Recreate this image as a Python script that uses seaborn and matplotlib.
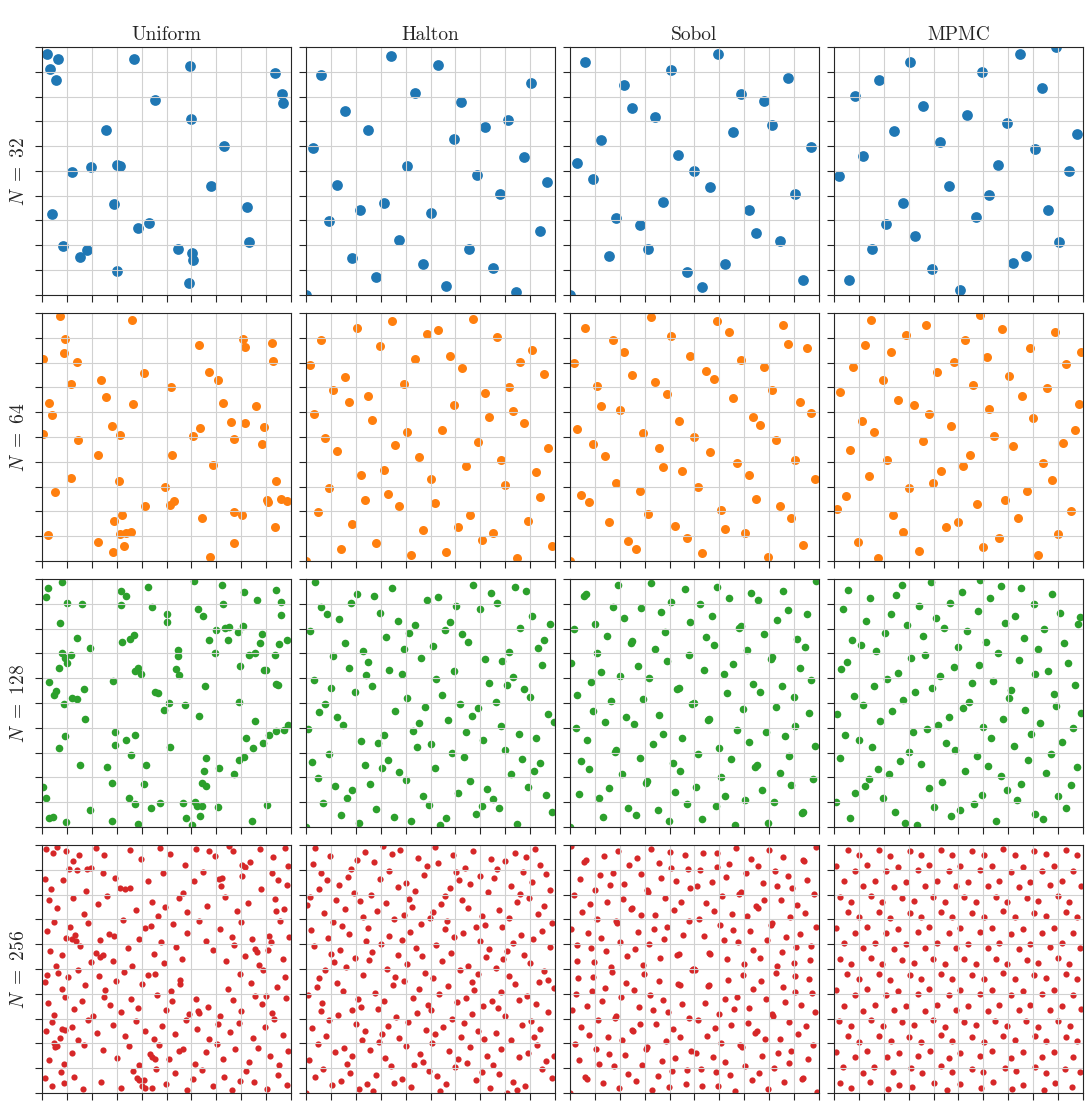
import numpy as np
import pandas as pd
import matplotlib
matplotlib.use("Agg")
import matplotlib.pyplot as plt
import seaborn as sns

methods = ["Uniform", "Halton", "Sobol", "MPMC"]
sizes = [32, 64, 128, 256]
colors = ["#1f77b4", "#ff7f0e", "#2ca02c", "#d62728"]
marker_area = [60, 42, 30, 20]

# point coordinates (percent of the unit square)
uniform_32 = [(1.9,97.2),(6.3,95.0),(3.2,91.0),(5.7,86.6),(37.1,95.1),(59.5,92.3),(93.7,89.6),(96.4,81.0),(96.8,77.5),(45.4,78.5),(59.9,70.9),(25.7,66.3),(72.9,59.9),(12.0,49.5),(19.8,51.6),(30.1,52.5),(31.2,52.0),(68.0,44.0),(28.9,36.7),(82.5,35.6),(4.2,32.5),(42.9,29.1),(38.5,27.1),(8.6,19.6),(18.0,18.2),(15.2,15.4),(54.5,18.4),(60.4,17.0),(60.8,13.9),(83.0,21.3),(30.1,9.7),(59.1,4.6)]
halton_32 = [(34.3,96.4),(53.1,92.6),(6.1,88.8),(90.5,85.3),(43.6,81.6),(62.4,77.9),(15.5,74.1),(81.2,70.4),(71.8,67.9),(24.9,66.7),(59.3,63.0),(3.0,59.2),(87.6,55.6),(40.5,52.0),(68.8,48.2),(96.9,45.6),(12.4,44.4),(78.1,40.8),(31.2,37.0),(21.8,34.4),(50.0,33.2),(9.2,29.6),(93.8,25.8),(37.3,22.1),(65.5,18.4),(18.4,14.7),(46.8,12.3),(75.0,10.9),(28.0,7.3),(56.1,3.5),(84.5,1.2),(0.0,0.0)]
sobol_32 = [(59.3,97.0),(6.1,93.8),(40.4,90.7),(87.5,87.6),(21.7,84.5),(68.6,81.2),(78.0,78.3),(24.9,75.2),(34.2,71.8),(81.3,68.7),(65.6,65.6),(12.5,62.5),(96.8,59.5),(43.5,56.3),(3.0,53.0),(50.0,50.1),(9.3,46.8),(56.1,43.7),(90.4,40.6),(37.3,37.4),(71.7,34.3),(18.5,31.2),(28.0,28.1),(74.9,25.0),(84.4,21.9),(31.3,18.6),(15.5,15.5),(62.4,12.4),(46.8,9.4),(93.5,6.2),(53.0,3.0),(0.0,0.0)]
mpmc_32 = [(89.1,99.9),(74.6,97.0),(30.7,94.1),(59.5,90.0),(18.2,86.6),(83.4,83.3),(8.5,80.3),(35.9,76.1),(53.6,72.7),(69.3,69.5),(24.3,66.1),(97.7,64.8),(42.7,61.7),(80.8,58.8),(11.8,56.0),(65.8,52.2),(94.2,49.8),(1.9,47.9),(46.2,44.1),(62.2,40.4),(85.8,34.1),(27.8,37.1),(57.2,31.6),(20.8,28.5),(32.7,23.6),(90.4,21.3),(15.3,18.4),(77.3,15.8),(71.8,12.7),(39.2,10.3),(6.1,5.9),(50.8,2.0)]

uniform_64 = [(7.3,98.7),(36.2,97.2),(9.3,89.7),(63.1,87.2),(80.6,89.6),(81.6,86.1),(92.3,87.7),(92.7,80.8),(0.3,81.6),(8.9,83.7),(14.0,80.2),(40.9,75.6),(67.0,76.2),(70.5,72.9),(23.6,72.9),(11.7,71.3),(51.7,70.3),(25.6,66.1),(3.0,63.6),(36.6,63.2),(72.8,63.7),(86.1,62.3),(3.9,59.0),(75.8,56.0),(81.6,55.5),(28.0,54.3),(63.3,53.6),(89.1,54.0),(0.5,51.1),(31.4,50.9),(60.8,50.3),(77.0,49.3),(14.4,48.7),(88.4,47.2),(22.6,42.6),(52.1,42.6),(68.8,38.6),(11.8,33.6),(31.1,32.4),(94.1,32.3),(49.5,30.0),(5.1,27.8),(52.8,24.0),(51.3,22.5),(90.4,24.7),(90.7,23.8),(96.1,25.0),(98.4,24.0),(41.5,22.0),(77.1,19.7),(80.4,18.4),(32.0,18.4),(28.8,16.1),(64.2,17.3),(93.5,13.6),(2.4,10.5),(31.5,10.8),(33.8,11.2),(35.8,11.5),(22.6,7.6),(77.1,7.2),(28.5,3.5),(33.0,6.2),(67.6,1.5)]
halton_64 = [(67.2,97.7),(34.5,96.6),(20.4,94.1),(53.2,93.0),(48.5,91.6),(76.9,90.4),(6.2,89.2),(29.7,86.6),(90.7,85.2),(43.8,81.5),(58.0,82.7),(1.5,79.0),(86.1,80.2),(62.7,77.7),(95.5,75.3),(15.7,74.1),(39.2,71.5),(81.5,70.3),(10.8,69.1),(72.0,67.9),(25.0,66.7),(17.2,64.1),(59.5,62.9),(83.0,60.5),(3.1,59.1),(73.6,57.9),(26.6,56.8),(87.7,55.5),(54.7,53.0),(40.7,51.8),(7.7,49.4),(68.9,48.0),(35.9,46.8),(97.0,45.6),(12.6,44.4),(45.4,42.0),(78.2,40.6),(64.1,38.2),(31.4,36.8),(92.4,35.8),(21.9,34.5),(50.1,33.2),(79.9,30.8),(9.3,29.6),(32.8,27.0),(94.1,25.8),(23.5,24.7),(51.8,23.5),(37.4,22.1),(4.7,19.7),(65.8,18.4),(89.2,15.9),(18.5,14.7),(61.1,13.5),(46.9,12.3),(75.1,11.1),(70.5,8.5),(28.1,7.3),(98.6,6.1),(14.1,4.9),(56.2,3.5),(42.3,2.4),(84.6,1.2),(0.0,0.0)]
sobol_64 = [(32.7,98.5),(59.2,96.9),(85.7,95.3),(6.1,93.8),(63.9,92.2),(40.6,90.6),(17.1,89.1),(87.5,87.4),(95.3,86.0),(21.8,84.3),(48.2,82.7),(68.6,81.2),(1.5,79.8),(78.0,78.2),(54.6,76.7),(24.9,75.0),(57.7,73.4),(34.2,72.0),(10.8,70.4),(81.3,68.8),(39.1,67.3),(65.6,65.7),(92.2,64.2),(12.5,62.6),(20.2,61.0),(96.8,59.5),(73.3,57.9),(43.7,56.3),(76.5,54.8),(3.0,53.2),(29.5,51.6),(50.0,50.1),(82.7,48.6),(9.3,47.1),(35.8,45.5),(56.1,44.0),(14.0,42.4),(90.4,40.8),(67.1,39.3),(37.3,37.7),(45.1,36.2),(71.7,34.5),(98.4,32.9),(18.6,31.4),(51.5,29.8),(28.0,28.3),(4.6,26.7),(74.9,25.1),(7.7,23.6),(84.2,22.0),(60.8,20.5),(31.3,18.9),(15.5,15.8),(88.9,17.4),(42.2,14.2),(62.4,12.7),(70.2,11.1),(46.8,9.4),(23.5,7.9),(93.5,6.5),(26.4,4.9),(53.0,3.2),(79.6,1.7),(0.0,0.0)]
mpmc_64 = [(58.8,99.1),(14.9,97.0),(36.8,95.0),(67.3,93.5),(88.6,92.4),(28.8,91.2),(52.7,89.2),(12.4,87.2),(78.6,85.8),(22.8,84.1),(99.2,84.1),(61.4,82.2),(48.1,80.4),(93.2,79.4),(7.7,78.3),(41.4,76.0),(70.3,74.5),(19.6,72.9),(55.9,70.9),(85.7,69.9),(2.6,68.3),(75.5,66.5),(25.8,65.0),(98.4,63.4),(32.0,62.8),(62.4,61.1),(38.0,59.2),(80.1,57.6),(11.4,56.3),(47.0,54.3),(16.1,51.8),(96.8,53.0),(64.3,50.3),(35.7,48.3),(91.9,47.5),(71.9,46.3),(6.5,44.8),(54.6,42.8),(21.2,40.6),(84.1,39.4),(51.9,38.1),(42.8,36.3),(13.9,34.3),(87.4,32.8),(39.7,31.4),(30.3,29.3),(77.6,28.1),(4.7,26.3),(68.8,24.7),(57.6,23.1),(1.2,21.1),(95.0,20.0),(23.9,18.4),(74.1,17.3),(49.9,15.7),(44.9,13.6),(27.7,11.6),(90.1,10.7),(66.2,9.4),(9.5,7.8),(60.0,5.7),(34.1,3.9),(81.9,2.4),(17.8,1.1)]

uniform_128 = [(8.2,98.7),(61.2,99.1),(2.4,96.4),(1.5,92.9),(31.9,95.0),(33.9,93.0),(42.7,96.6),(72.3,97.6),(81.0,94.7),(93.8,95.4),(86.4,91.4),(96.0,90.6),(10.1,90.2),(16.0,89.9),(31.8,89.5),(44.0,88.8),(62.6,87.9),(72.5,89.8),(64.7,84.9),(96.1,85.3),(50.2,85.7),(50.2,82.5),(7.1,82.2),(14.1,76.1),(19.2,72.2),(32.3,74.5),(35.4,75.7),(37.1,77.6),(70.0,79.5),(73.4,80.3),(75.0,80.5),(80.8,81.0),(78.7,78.8),(74.8,75.3),(67.0,75.2),(88.4,77.9),(87.5,74.1),(95.2,73.7),(98.4,75.3),(8.2,70.2),(11.7,69.5),(10.1,66.3),(9.4,68.0),(7.0,64.3),(54.6,71.4),(54.6,69.1),(69.6,70.2),(83.3,69.5),(85.5,70.2),(93.4,69.5),(79.5,65.0),(38.5,64.3),(37.3,62.7),(39.6,61.6),(53.8,63.6),(55.2,61.3),(89.2,63.1),(90.0,63.1),(2.6,58.5),(28.4,59.0),(65.5,56.7),(93.8,57.5),(94.8,57.3),(5.5,54.9),(5.0,53.2),(16.7,55.5),(12.2,52.2),(13.9,51.8),(9.0,49.5),(45.5,54.4),(46.4,54.2),(50.9,50.1),(48.9,47.3),(57.5,49.2),(79.0,50.3),(17.1,43.4),(63.0,44.7),(85.7,42.9),(29.2,38.4),(37.3,37.1),(9.2,36.7),(33.6,34.9),(29.2,32.9),(7.0,31.8),(51.4,32.3),(35.8,29.2),(98.8,41.2),(97.0,39.2),(94.0,38.5),(91.3,36.9),(88.7,33.7),(82.1,36.0),(84.8,31.7),(81.2,28.2),(79.1,27.1),(65.8,27.9),(64.9,22.4),(71.1,23.7),(76.9,21.4),(15.3,24.9),(26.2,24.3),(41.6,24.8),(0.5,16.2),(28.0,17.7),(40.8,17.4),(64.3,17.7),(65.8,16.4),(1.5,11.6),(35.0,11.7),(37.3,9.3),(47.2,9.7),(43.6,7.8),(56.7,9.7),(61.6,10.0),(62.2,8.5),(64.1,8.5),(70.5,8.1),(90.2,9.0),(19.4,6.9),(3.0,3.6),(4.3,4.0),(57.7,3.5),(63.4,4.6),(9.8,1.8),(28.0,2.3),(38.6,1.1),(60.3,0.9),(84.3,2.3)]
halton_128 = [(3.8,98.8),(67.2,97.6),(83.9,96.8),(34.5,96.4),(88.5,95.1),(74.3,94.2),(20.4,93.8),(27.4,93.0),(53.2,92.6),(48.5,91.4),(18.0,90.4),(76.9,90.2),(6.2,88.9),(60.1,89.2),(69.7,87.7),(29.7,86.4),(8.6,85.7),(13.2,84.0),(90.7,85.2),(36.9,83.0),(58.0,82.6),(43.9,81.5),(1.5,79.0),(86.1,80.3),(97.8,81.8),(41.5,78.2),(55.7,79.4),(62.7,77.8),(32.0,76.5),(64.9,74.5),(95.5,75.3),(15.7,74.1),(50.8,72.9),(93.2,72.0),(22.7,70.8),(39.2,71.6),(81.5,70.4),(10.8,69.1),(46.2,68.2),(72.0,67.9),(78.9,67.1),(25.0,66.7),(94.7,65.5),(17.2,64.2),(33.5,63.3),(38.4,61.7),(59.5,62.9),(24.2,61.1),(83.0,60.5),(3.1,59.2),(52.4,59.6),(73.6,57.9),(80.7,57.1),(26.6,56.9),(10.1,55.9),(87.7,55.5),(19.6,54.3),(54.7,53.1),(90.1,52.3),(40.7,51.9),(76.1,50.5),(61.9,49.7),(7.7,49.5),(47.8,48.5),(68.9,48.1),(5.4,46.2),(35.9,46.9),(97.0,45.7),(12.6,44.5),(66.5,44.7),(57.2,43.1),(14.9,41.2),(45.4,42.0),(99.5,42.5),(78.2,40.7),(0.8,39.4),(43.1,38.5),(64.1,38.3),(31.4,36.9),(85.4,37.3),(71.2,35.0),(21.9,34.6),(92.4,35.8),(28.9,33.7),(50.1,33.3),(44.6,32.1),(79.9,30.9),(58.8,29.9),(9.3,29.6),(63.4,28.3),(86.9,27.5),(2.3,26.3),(32.8,27.1),(94.1,25.9),(23.5,24.8),(30.7,23.9),(51.8,23.6),(91.5,22.5),(37.4,22.2),(82.2,21.2),(4.7,19.8),(40.0,18.9),(65.8,18.5),(89.2,16.0),(25.7,17.3),(11.8,16.4),(18.5,14.8),(72.8,15.1),(61.1,13.6),(46.9,12.4),(96.4,12.7),(16.4,11.5),(75.1,11.1),(7.0,9.8),(49.2,9.0),(70.5,8.6),(77.6,7.8),(28.1,7.3),(98.6,6.2),(68.1,5.4),(14.1,5.0),(35.3,4.0),(56.2,3.6),(42.3,2.4),(21.2,1.6),(53.8,0.7),(84.6,1.2),(0.0,0.0)]
sobol_128 = [(5.5,93.0),(6.5,93.8),(19.4,97.6),(32.7,98.5),(46.0,96.1),(59.2,96.9),(72.5,94.5),(85.7,95.3),(98.8,99.3),(63.9,92.2),(75.6,91.4),(17.1,88.9),(28.7,88.3),(40.6,90.6),(52.2,89.9),(87.5,87.5),(95.3,86.0),(10.1,81.9),(21.8,84.4),(36.7,86.7),(56.9,85.2),(48.2,82.7),(83.3,83.6),(67.8,80.4),(68.8,81.0),(1.5,79.8),(14.7,77.2),(38.1,78.7),(54.6,76.5),(78.0,78.0),(91.2,75.7),(94.5,72.6),(24.4,74.2),(25.0,74.8),(34.2,71.8),(57.7,73.4),(10.9,70.2),(47.6,69.4),(71.0,71.2),(80.6,67.8),(81.2,68.4),(0.4,66.3),(38.8,67.1),(27.4,64.8),(65.6,65.6),(92.2,64.0),(12.4,62.5),(53.8,63.2),(20.2,60.9),(61.7,61.7),(31.9,60.1),(96.8,59.3),(8.5,58.5),(73.3,57.8),(85.0,57.0),(43.1,55.5),(43.7,56.1),(3.0,53.1),(16.3,50.7),(29.5,51.5),(76.5,54.6),(63.2,53.9),(89.8,52.3),(49.2,49.4),(49.8,50.0),(82.7,48.4),(69.4,47.6),(9.3,46.9),(22.5,44.5),(35.8,45.3),(55.4,43.0),(56.0,43.6),(96.0,46.1),(14.0,42.2),(25.6,41.4),(90.4,40.6),(2.3,39.8),(67.1,38.9),(78.7,38.1),(37.3,37.3),(86.5,36.7),(45.1,35.8),(6.9,35.0),(71.7,34.2),(33.3,33.6),(98.2,32.7),(17.9,30.3),(18.5,30.9),(60.0,31.9),(88.1,28.7),(28.0,28.0),(51.5,29.5),(4.6,26.5),(64.7,27.4),(41.2,25.7),(74.4,24.2),(75.0,24.8),(7.7,23.3),(44.3,22.5),(84.2,21.8),(21.0,21.2),(60.8,20.2),(97.4,19.5),(30.4,17.9),(31.0,18.5),(50.7,16.3),(15.5,15.6),(77.2,14.8),(88.9,17.1),(3.8,13.2),(42.2,14.0),(11.6,11.7),(62.4,12.5),(70.2,10.9),(81.9,10.0),(46.8,9.3),(58.5,8.5),(23.5,7.8),(35.2,6.9),(93.0,5.6),(93.6,6.2),(13.1,3.9),(26.4,4.7),(39.8,2.3),(53.0,3.0),(66.3,0.7),(79.6,1.5),(0.0,0.0)]
mpmc_128 = [(5.8,95.7),(27.2,97.7),(38.8,98.9),(58.8,99.5),(67.2,97.2),(75.0,96.4),(87.7,93.9),(51.4,94.6),(25.1,93.5),(14.6,92.2),(62.7,92.3),(46.6,90.4),(80.4,89.8),(3.5,88.0),(34.2,89.1),(22.8,85.8),(57.7,87.1),(90.8,86.4),(98.9,84.8),(13.0,83.0),(40.9,84.2),(72.7,85.0),(29.2,81.4),(68.5,82.2),(98.2,81.8),(44.3,80.3),(84.5,79.8),(53.6,79.0),(20.5,78.2),(35.7,77.0),(7.2,75.5),(76.4,76.4),(61.2,74.5),(10.8,73.4),(92.3,74.1),(17.0,71.0),(49.9,72.5),(81.9,71.7),(65.9,70.1),(36.6,69.3),(31.1,68.1),(5.4,66.6),(93.9,66.0),(74.5,67.4),(58.4,65.5),(48.2,64.7),(3.0,63.5),(25.7,62.1),(80.8,61.5),(86.1,62.9),(42.7,60.8),(21.2,59.6),(63.9,58.8),(55.3,57.9),(96.9,57.4),(16.1,57.0),(39.3,55.9),(71.2,55.3),(32.7,54.3),(8.0,53.0),(88.2,53.6),(70.3,52.0),(27.6,51.2),(54.3,50.3),(89.1,48.7),(11.5,49.2),(51.8,48.0),(76.9,47.2),(23.5,46.6),(1.4,45.4),(99.3,45.8),(46.1,44.5),(67.8,43.5),(18.6,42.7),(82.6,42.0),(60.0,40.3),(37.2,39.4),(95.9,39.9),(4.6,36.9),(31.6,38.4),(79.3,37.5),(41.8,41.2),(63.1,35.8),(10.0,35.0),(91.5,34.4),(44.9,33.7),(15.1,32.2),(72.3,32.7),(48.8,31.1),(30.1,30.2),(57.3,28.8),(87.2,29.5),(2.6,27.9),(78.0,27.1),(26.6,26.4),(35.1,25.2),(97.7,24.0),(17.7,23.5),(61.9,24.4),(52.8,22.4),(85.3,21.8),(22.2,21.2),(14.1,19.4),(66.9,20.4),(43.5,18.2),(95.0,17.1),(75.3,17.5),(12.4,16.6),(38.2,15.6),(69.5,14.7),(8.6,13.7),(59.3,12.9),(90.1,12.4),(19.9,11.7),(0.8,10.0),(73.5,10.8),(56.1,9.2),(40.3,8.2),(93.1,7.5),(50.7,7.0),(24.5,6.2),(80.9,5.4),(47.2,4.6),(6.4,3.5),(83.8,3.0),(28.5,1.6),(65.1,2.3),(33.5,0.7)]

uniform_256 = [(1.5,98.5),(4.5,96.8),(6.0,99.2),(9.8,97.5),(12.5,93.6),(14.8,95.8),(19.5,90.8),(21.6,98.9),(24.8,96.1),(35.2,97.9),(39.6,94.3),(47.2,99.0),(51.3,96.4),(57.4,92.1),(61.8,98.3),(69.4,95.7),(75.2,99.5),(76.8,97.6),(83.5,93.2),(87.6,98.6),(92.8,95.1),(97.4,99.0),(98.9,91.5),
    (1.2,86.4),(3.6,82.1),(10.8,90.3),(14.2,90.0),(18.1,90.2),(8.4,85.8),(24.5,88.7),(31.5,82.5),(33.2,82.3),(35.4,82.7),(29.4,86.9),(42.7,85.5),(48.6,88.9),(56.8,80.6),(61.2,85.4),(64.5,89.2),(71.8,83.3),(80.2,87.4),(88.1,82.4),(92.5,88.6),(94.8,86.0),(98.5,83.8),
    (2.7,77.9),(6.1,74.5),(12.4,78.8),(16.8,72.3),(22.5,76.4),(26.1,79.6),(37.7,73.8),(44.2,77.1),(46.5,71.2),(54.9,78.5),(58.3,72.9),(66.2,75.6),(73.5,79.1),(78.3,73.4),(82.9,76.8),(93.6,78.2),(97.1,74.4),
    (1.8,65.2),(4.9,69.1),(9.6,62.4),(11.2,66.9),(13.1,63.8),(18.6,68.5),(23.2,61.6),(26.9,64.3),(32.4,69.8),(38.8,62.1),(41.5,66.7),(43.9,67.3),(47.8,60.8),(52.6,68.2),(58.1,64.5),(62.9,69.4),(65.7,61.3),(71.4,66.2),(76.2,63.1),(79.8,68.8),(84.4,61.9),(91.3,63.4),(95.6,69.5),(99.2,62.8),
    (3.1,57.2),(5.8,51.4),(8.2,55.6),(15.4,59.1),(19.7,52.8),(21.8,56.3),(28.5,53.2),(34.6,58.4),(36.2,51.1),(44.8,55.9),(49.1,52.4),(53.7,58.7),(56.4,54.1),(68.5,57.8),(73.9,53.3),(77.1,59.6),(81.6,55.2),(87.3,51.8),(90.6,57.5),(96.8,53.9),
    (1.1,44.6),(6.4,48.2),(7.9,42.1),(10.5,46.7),(14.3,49.6),(17.2,43.5),(22.9,47.1),(25.4,41.4),(29.8,45.3),(33.1,48.8),(40.2,43.9),(42.6,47.6),(45.3,47.9),(51.8,41.2),(55.6,45.5),(74.6,41.9),(79.3,48.1),(83.8,44.2),(88.9,49.5),(94.2,42.6),(97.5,46.8),
    (2.4,36.1),(4.7,31.5),(9.1,38.6),(12.8,33.9),(16.1,37.2),(20.5,31.2),(24.7,38.9),(27.3,35.4),(31.8,32.6),(35.9,37.8),(38.4,34.1),(46.2,39.4),(49.7,33.5),(52.3,36.9),(58.9,31.8),(61.7,38.1),(66.8,34.7),(71.3,30.9),(76.5,37.5),(80.1,33.2),(85.7,39.1),(88.2,35.8),(92.4,32.1),(98.1,38.3),
    (1.6,24.9),(3.9,28.6),(7.3,22.1),(11.9,26.8),(14.6,21.4),(18.3,29.3),(22.1,24.2),(28.7,27.5),(33.4,22.8),(37.6,28.9),(41.2,25.1),(44.9,21.6),(48.3,27.2),(53.5,23.7),(57.8,29.6),(62.4,25.9),(67.1,21.8),(70.6,27.7),(75.3,24.4),(78.9,28.1),(84.6,22.3),(89.4,26.5),(93.1,29.8),(96.7,23.5),
    (2.9,13.2),(5.4,18.7),(8.8,11.6),(12.2,16.3),(16.9,19.2),(24.3,17.5),(30.1,14.1),(34.8,18.9),(38.9,11.3),(43.5,15.7),(47.1,19.5),(50.9,13.6),(55.2,17.1),(56.8,17.6),(61.4,11.8),(65.9,16.4),(70.2,19.8),(72.8,13.9),(77.6,17.8),(83.1,12.4),(86.8,18.2),(91.7,14.8),(95.3,11.1),(98.8,16.9),
    (1.3,6.1),(4.2,2.8),(7.6,8.4),(8.9,3.9),(12.7,6.6),(16.4,1.5),(23.8,4.3),(31.9,2.2),(36.4,8.7),(40.8,5.4),(45.6,9.6),(44.1,1.9),(49.9,3.6),(53.4,7.9),(58.2,1.2),(60.7,5.8),(64.3,9.4),(68.8,2.7),(73.1,6.3),(76.4,1.1),(81.9,8.8),(85.2,4.6),(90.3,1.7),(94.6,7.4),(98.2,3.1),
    (44.0,14.5),(45.2,13.9),(62.5,33.0),(63.1,32.2),(23.4,55.0),(24.6,55.8),(71.0,86.2),(72.3,86.9),(8.0,26.0),(9.1,25.3),(85.5,58.0),(86.2,56.9),(38.0,6.0),(39.1,5.2),(17.5,81.5),(49.5,75.0),(90.0,39.0),(55.5,44.0),(29.0,63.5),(67.0,97.5),(93.8,73.2),(2.0,47.5),(79.5,5.0),
    (12.0,62.0),(13.5,61.2),(80.5,92.0),(81.7,91.2),(5.0,20.0),(6.2,19.1),(92.0,61.0),(40.0,3.0),(41.2,2.1)]
halton_256 = halton_128 + [(0.4,75.7),(50.4,20.2),(25.4,53.5),(75.4,86.8),(12.9,31.3),(62.9,64.6),(37.9,97.9),(87.9,2.9),(6.6,36.2),(56.6,69.5),(31.6,14.0),(81.6,47.3),(19.1,80.7),(69.1,25.1),(44.1,58.4),(94.1,91.8),(3.5,6.6),(53.5,39.9),(28.5,73.3),(78.5,17.7),(16.0,51.0),(66.0,84.4),(41.0,28.8),(91.0,62.1),(9.8,95.5),(59.8,10.3),(34.8,43.6),(84.8,77.0),(22.3,21.4),(72.3,54.7),(47.3,88.1),(97.3,32.5),(2.0,65.8),(52.0,99.2),(27.0,0.8),(77.0,34.2),(14.5,67.5),(64.5,11.9),(39.5,45.3),(89.5,78.6),(8.2,23.0),(58.2,56.4),(33.2,89.7),(83.2,4.5),(20.7,37.9),(70.7,71.2),(45.7,15.6),(95.7,49.0),(5.1,82.3),(55.1,26.7),(30.1,60.1),(80.1,93.4),(17.6,8.2),(67.6,41.6),(42.6,74.9),(92.6,19.3),(11.3,52.7),(61.3,86.0),(36.3,30.5),(86.3,63.8),(23.8,97.1),(73.8,2.1),(48.8,35.4),(98.8,68.7),(1.2,13.2),(51.2,46.5),(26.2,79.8),(76.2,24.3),(13.7,57.6),(63.7,90.9),(38.7,5.8),(88.7,39.1),(7.4,72.4),(57.4,16.9),(32.4,50.2),(82.4,83.5),(19.9,28.0),(69.9,61.3),(44.9,94.7),(94.9,9.5),(4.3,42.8),(54.3,76.1),(29.3,20.6),(79.3,53.9),(16.8,87.2),(66.8,31.7),(41.8,65.0),(91.8,98.4),(10.5,3.3),(60.5,36.6),(35.5,70.0),(85.5,14.4),(23.0,47.7),(73.0,81.1),(48.0,25.5),(98.0,58.8),(2.7,92.2),(52.7,7.0),(27.7,40.3),(77.7,73.7),(15.2,18.1),(65.2,51.4),(40.2,84.8),(90.2,29.2),(9.0,62.6),(59.0,95.9),(34.0,10.7),(84.0,44.0),(21.5,77.4),(71.5,21.8),(46.5,55.1),(96.5,88.5),(5.9,32.9),(55.9,66.3),(30.9,99.6),(80.9,0.1),(18.4,33.5),(68.4,66.8),(43.4,11.2),(93.4,44.6),(12.1,77.9),(62.1,22.4),(37.1,55.7),(87.1,89.0),(24.6,3.8),(74.6,37.2),(49.6,70.5),(99.6,15.0)]
sobol_256 = sobol_128 + [(5.9,6.6),(6.9,5.8),(19.8,2.0),(33.1,1.1),(46.4,3.5),(59.6,2.7),(72.9,5.1),(86.1,4.3),(99.2,0.3),(64.3,7.4),(76.0,8.2),(17.5,10.7),(29.1,11.3),(41.0,9.0),(52.6,9.7),(87.9,12.1),(95.7,13.6),(10.5,17.7),(22.2,15.2),(37.1,12.9),(57.3,14.4),(48.6,16.9),(83.7,16.0),(68.2,19.2),(69.2,18.6),(1.9,19.8),(15.1,22.4),(38.5,20.9),(55.0,23.1),(78.4,21.6),(91.6,23.9),(94.9,27.0),(24.8,25.4),(25.4,24.8),(34.6,27.8),(58.1,26.2),(11.3,29.4),(48.0,30.2),(71.4,28.4),(81.0,31.8),(81.6,31.2),(0.8,33.3),(39.2,32.5),(27.8,34.8),(66.0,34.0),(92.6,35.6),(12.8,37.1),(54.2,36.4),(20.6,38.7),(62.1,37.9),(32.3,39.5),(97.2,40.3),(8.9,41.1),(73.7,41.8),(85.4,42.6),(43.5,44.1),(44.1,43.5),(3.4,46.5),(16.7,48.9),(29.9,48.1),(76.9,45.0),(63.6,45.7),(90.2,47.3),(49.6,50.2),(50.2,49.6),(83.1,51.2),(69.8,52.0),(9.7,52.7),(22.9,55.1),(36.2,54.3),(55.8,56.6),(56.4,56.0),(96.4,53.5),(14.4,57.4),(26.0,58.2),(90.8,59.0),(2.7,59.8),(67.5,60.7),(79.1,61.5),(37.7,62.3),(86.9,62.9),(45.5,63.8),(7.3,64.6),(72.1,65.4),(33.7,66.0),(98.6,66.9),(18.3,69.3),(18.9,68.7),(60.4,67.7),(88.5,70.9),(28.4,71.6),(51.9,70.1),(5.0,73.1),(65.1,72.2),(41.6,73.9),(74.8,75.4),(75.4,74.8),(8.1,76.3),(44.7,77.1),(84.6,77.8),(21.4,78.4),(61.2,79.4),(97.8,80.1),(30.8,81.7),(31.4,81.1),(51.1,83.3),(15.9,84.0),(77.6,84.8),(89.3,82.5),(4.2,86.4),(42.6,85.6),(12.0,87.9),(62.8,87.1),(70.6,88.7),(82.3,89.6),(47.2,90.3),(58.9,91.1),(23.9,91.8),(35.6,92.7),(93.4,94.0),(94.0,93.4),(13.5,95.7),(26.8,94.9),(40.2,97.3),(53.4,96.6),(66.7,98.9),(80.0,98.1),(0.4,99.6)]
mpmc_256 = [(2.4,4.0),(6.7,2.2),(14.5,4.3),(21.6,1.8),(26.0,3.4),(31.4,2.3),(40.0,4.1),(45.5,1.3),(50.7,3.7),(58.9,2.0),(63.8,4.4),(71.7,1.6),(76.0,3.3),(84.2,1.0),(88.6,3.9),(95.4,2.5),
    (3.8,10.3),(11.5,8.2),(16.0,10.6),(23.9,8.5),(30.8,9.9),(35.2,8.0),(43.1,10.8),(47.5,8.6),(55.3,9.7),(60.0,8.3),(68.6,10.2),(73.0,8.7),(80.8,10.5),(85.1,8.1),(92.9,9.6),(98.9,8.4),
    (0.8,16.5),(8.6,14.6),(13.2,16.9),(21.4,14.4),(26.0,16.2),(33.7,14.9),(38.4,16.8),(46.2,14.2),(50.8,16.0),(58.6,15.0),(63.5,17.0),(71.2,14.3),(75.8,16.4),(83.6,14.7),(88.3,16.6),(96.1,14.5),
    (5.5,22.8),(10.0,20.7),(18.1,23.0),(22.8,20.9),(30.3,22.4),(35.1,20.5),(43.0,23.2),(47.6,21.0),(55.6,22.6),(60.2,20.6),(68.0,23.1),(72.7,21.2),(80.6,22.9),(85.0,20.8),(93.0,22.5),(97.6,21.1),
    (2.2,29.0),(7.0,27.0),(14.9,29.3),(19.6,26.9),(27.4,28.8),(32.0,27.3),(39.8,29.4),(44.6,26.8),(52.4,28.5),(57.1,27.4),(64.8,29.2),(69.6,27.1),(77.3,28.9),(82.1,26.7),(89.9,29.1),(94.7,27.2),
    (4.0,35.2),(11.7,33.2),(16.4,35.5),(24.2,33.4),(28.9,35.0),(36.7,33.0),(41.4,35.6),(49.2,33.5),(53.9,35.1),(61.7,33.1),(66.4,35.4),(74.2,33.3),(78.9,35.3),(86.7,33.6),(91.4,35.0),(99.2,33.8),
    (0.9,41.5),(8.5,39.7),(13.3,41.8),(21.1,39.5),(25.8,41.3),(33.6,39.9),(38.3,41.9),(46.1,39.6),(50.8,41.4),(58.6,39.8),(63.3,41.7),(71.1,39.4),(75.8,41.2),(83.6,40.0),(88.3,41.6),(96.1,39.6),
    (5.4,47.8),(10.1,45.9),(18.0,48.0),(22.6,45.7),(30.5,47.6),(35.1,46.1),(43.0,48.1),(47.6,45.8),(55.5,47.5),(60.1,46.0),(68.0,48.2),(72.6,45.9),(80.5,47.7),(85.1,46.2),(93.0,47.9),(97.6,45.8),
    (2.4,54.0),(7.0,52.1),(14.9,54.3),(19.5,52.0),(27.4,53.8),(32.0,52.3),(39.9,54.2),(44.5,51.9),(52.4,53.9),(57.0,52.2),(64.9,54.1),(69.5,52.0),(77.4,53.7),(82.0,52.4),(89.9,54.4),(94.5,52.1),
    (3.9,60.3),(11.7,58.4),(16.4,60.5),(24.2,58.2),(28.9,60.1),(36.7,58.6),(41.4,60.6),(49.2,58.3),(53.9,60.2),(61.7,58.5),(66.4,60.4),(74.2,58.1),(78.9,60.0),(86.7,58.7),(91.4,60.6),(99.0,58.4),
    (0.8,66.5),(8.6,64.6),(13.3,66.8),(21.1,64.4),(25.8,66.3),(33.6,64.9),(38.3,66.9),(46.1,64.5),(50.8,66.4),(58.6,64.8),(63.3,66.7),(71.1,64.3),(75.8,66.2),(83.6,64.7),(88.3,66.6),(96.1,64.5),
    (5.5,72.8),(10.1,70.9),(18.0,73.0),(22.6,70.7),(30.5,72.6),(35.1,71.1),(43.0,73.1),(47.6,70.8),(55.5,72.5),(60.1,71.0),(68.0,73.2),(72.6,70.9),(80.5,72.7),(85.1,71.2),(93.0,72.9),(97.6,70.8),
    (2.3,79.0),(7.0,77.1),(14.9,79.3),(19.5,77.0),(27.4,78.8),(32.0,77.3),(39.9,79.2),(44.5,76.9),(52.4,78.9),(57.0,77.2),(64.9,79.1),(69.5,77.0),(77.4,78.7),(82.0,77.4),(89.9,79.4),(94.5,77.1),
    (3.9,85.3),(11.7,83.4),(16.4,85.5),(24.2,83.2),(28.9,85.1),(36.7,83.6),(41.4,85.6),(49.2,83.3),(53.9,85.2),(61.7,83.5),(66.4,85.4),(74.2,83.1),(78.9,85.0),(86.7,83.7),(91.4,85.6),(99.1,83.4),
    (0.9,91.5),(8.6,89.6),(13.3,91.8),(21.1,89.4),(25.8,91.3),(33.6,89.9),(38.3,91.9),(46.1,89.5),(50.8,91.4),(58.6,89.8),(63.3,91.7),(71.1,89.3),(75.8,91.2),(83.6,89.7),(88.3,91.6),(96.1,89.5),
    (5.5,97.8),(10.1,95.9),(18.0,98.0),(22.6,95.7),(30.5,97.6),(35.1,96.1),(43.0,98.1),(47.6,95.8),(55.5,97.5),(60.1,96.0),(68.0,98.2),(72.6,95.9),(80.5,97.7),(85.1,96.2),(93.0,97.9),(97.6,95.8)]

panels = {
    32: [uniform_32, halton_32, sobol_32, mpmc_32],
    64: [uniform_64, halton_64, sobol_64, mpmc_64],
    128: [uniform_128, halton_128, sobol_128, mpmc_128],
    256: [uniform_256, halton_256, sobol_256, mpmc_256],
}

sns.set_style("ticks", {"axes.grid": True, "grid.color": ".82"})
plt.rcParams["font.family"] = "serif"
plt.rcParams["font.serif"] = ["cmr10"]
plt.rcParams["mathtext.fontset"] = "cm"
plt.rcParams["axes.unicode_minus"] = False

fig, axes = plt.subplots(4, 4, figsize=(10.86, 11.02), dpi=100)
fig.subplots_adjust(left=0.0387, right=0.9972, top=0.9574, bottom=0.0082,
                    wspace=0.06, hspace=0.073)

ticks = np.linspace(0, 1, 11)
for i, n in enumerate(sizes):
    for j, name in enumerate(methods):
        ax = axes[i, j]
        df = pd.DataFrame(panels[n][j], columns=["x", "y"]) / 100
        sns.scatterplot(data=df, x="x", y="y", color=colors[i],
                        s=marker_area[i], linewidth=0, ax=ax)
        ax.set_axisbelow(False)
        for sp in ax.spines.values():
            sp.set_zorder(3)
        ax.set_xlim(0, 1)
        ax.set_ylim(0, 1)
        ax.set_xticks(ticks)
        ax.set_yticks(ticks)
        ax.tick_params(labelbottom=False, labelleft=False, length=5)
        ax.set_xlabel("")
        ax.set_ylabel("")
        if i == 0:
            ax.set_title(name, fontsize=14, pad=5)
        if j == 0:
            ax.set_ylabel(r"$N\ =\ %d$" % n, fontsize=14, labelpad=5)

fig.savefig("out.png", dpi=100)
